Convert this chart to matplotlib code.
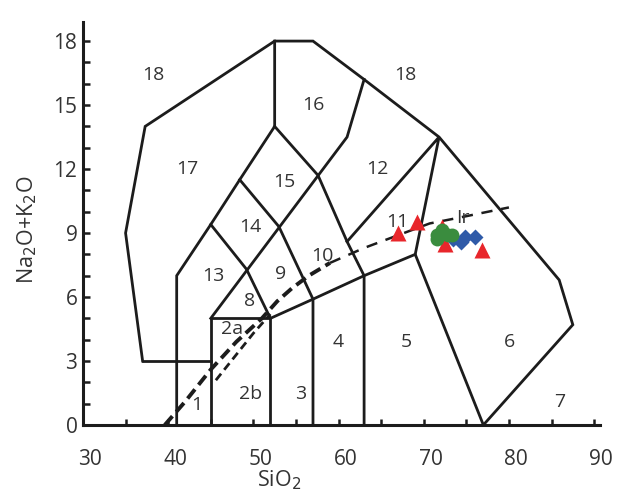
import matplotlib
matplotlib.use('Agg')
import matplotlib.pyplot as plt
import matplotlib.transforms as mtransforms

plt.rcParams['font.family'] = ['Open Sans', 'DejaVu Sans']

# field boundaries of the plutonic TAS diagram (SiO2, Na2O+K2O)
bound_x = [
    [41, 41, 45, 48.4, 52.5, 52.5],
    [37, 35, 37.3, 52.5, 57, 63, 71.8, 85.9, 87.5, 77],
    [37, 45],
    [45, 45, 52, 52],
    [45, 61, 63],
    [45, 49.2, 52],
    [48.4, 53, 57, 57],
    [52.5, 57.6, 61, 63, 63],
    [52, 57, 63, 69, 77],
    [61, 71.8, 69],
]
bound_y = [
    [0, 7, 9.4, 11.5, 14, 18],
    [3, 9, 14, 18, 18, 16.2, 13.5, 6.8, 4.7, 0],
    [3, 3],
    [0, 5, 5, 0],
    [5, 13.5, 16.2],
    [9.4, 7.3, 5],
    [11.5, 9.3, 5.9, 0],
    [14, 11.7, 8.6, 7, 0],
    [5, 5.9, 7, 8, 0],
    [8.6, 13.5, 8],
]

# Irvine alkaline / subalkaline divide
ir_thick_x = [39.6, 42, 45, 48, 51, 52.8, 54.5, 56.5, 59]
ir_thick_y = [0, 1.1, 2.6, 3.9, 5.0, 5.8, 6.4, 7.0, 7.6]
ir_thin_x = [59, 63, 67, 70.7, 73.9, 80]
ir_thin_y = [7.6, 8.3, 8.9, 9.45, 9.7, 10.2]
ir_low_x = [45.6, 48, 50, 52]
ir_low_y = [2.1, 3.3, 4.3, 5.2]

field_names = ['18', '18', '16', '17', '12', '15', '14', '11', 'Ir', '10', '13',
               '9', '8', '2a', '4', '5', '6', '3', '2b', '1', '7']
field_x = [38.2, 67.8, 57.1, 42.2, 64.6, 53.6, 49.7, 66.9, 74.6, 58.1, 45.3,
           53.2, 49.6, 47.5, 60.0, 68.0, 80.1, 55.5, 49.7, 43.4, 86.0]
field_y = [16.4, 16.4, 15.0, 12.0, 12.0, 11.4, 9.3, 9.5, 9.7, 7.9, 7.0,
           7.1, 5.8, 4.5, 3.9, 3.9, 3.9, 1.45, 1.45, 0.95, 1.1]

# samples
tri_sio2 = [67.0, 69.2, 72.1, 72.5, 76.8]
tri_alk = [9.0, 9.5, 9.3, 8.5, 8.2]
dia_sio2 = [73.4, 74.4, 74.9, 76.0]
dia_alk = [8.7, 8.6, 8.8, 8.8]
cir_sio2 = [71.5, 71.6, 72.2, 72.8, 73.3]
cir_alk = [8.9, 8.7, 9.15, 8.9, 8.9]

fig = plt.figure(figsize=(6.23, 4.94), dpi=100)
ax = fig.add_axes([0.1332, 0.1397, 0.830, 0.816])

for bx, by in zip(bound_x, bound_y):
    ax.plot(bx, by, color='#1c1c1c', lw=2.0, solid_joinstyle='miter', zorder=2)

ax.plot(ir_thick_x, ir_thick_y, color='#1c1c1c', lw=2.8, dashes=(3.0, 1.5), zorder=2)
ax.plot(ir_low_x, ir_low_y, color='#1c1c1c', lw=2.0, dashes=(3.0, 1.8), zorder=2)
ax.plot(ir_thin_x, ir_thin_y, color='#1c1c1c', lw=1.8, dashes=(4.5, 3.5), zorder=2)

for name, fx, fy in zip(field_names, field_x, field_y):
    ax.text(fx, fy, name, ha='center', va='center', fontsize=14, color='#333333', zorder=3)

ax.plot(dia_sio2, dia_alk, 'D', color='#2f5aa8', ms=8.5, mec='none', zorder=4)
ax.plot(tri_sio2, tri_alk, '^', color='#e8262b', ms=12, mec='none', zorder=5)
ax.plot(cir_sio2, cir_alk, 'o', color='#3a8c3e', ms=10, mec='none', zorder=6)

ax.set_xlim(30, 90.7)
ax.set_ylim(0, 18.9)
ax.set_xticks(range(30, 91, 10))
ax.set_xticks(range(35, 91, 10), minor=True)
ax.set_yticks(range(0, 19, 3))
ax.set_yticks([v for v in range(0, 19) if v % 3], minor=True)

for side in ['top', 'right']:
    ax.spines[side].set_visible(False)
for side in ['left', 'bottom']:
    ax.spines[side].set_linewidth(2.2)
    ax.spines[side].set_color('#1c1c1c')

ax.tick_params(axis='both', which='both', direction='in', color='#1c1c1c', width=1.8)
ax.tick_params(axis='y', which='both', length=5)
ax.tick_params(axis='x', which='both', length=4)
ax.tick_params(axis='both', which='major', labelsize=15, labelcolor='#333333')
ax.tick_params(axis='x', pad=17)
ax.tick_params(axis='y', pad=4)

shift = mtransforms.ScaledTranslation(7 / 100, 0, fig.dpi_scale_trans)
for lab in ax.get_xticklabels():
    lab.set_transform(lab.get_transform() + shift)

ax.set_xlabel('SiO$_2$', fontsize=15.5, color='#333333')
ax.xaxis.set_label_coords(0.379, -0.108)
ax.set_ylabel('Na$_2$O+K$_2$O', fontsize=15.5, color='#333333')
ax.yaxis.set_label_coords(-0.085, 0.484)

plt.savefig('out.png', dpi=100, facecolor='white')
